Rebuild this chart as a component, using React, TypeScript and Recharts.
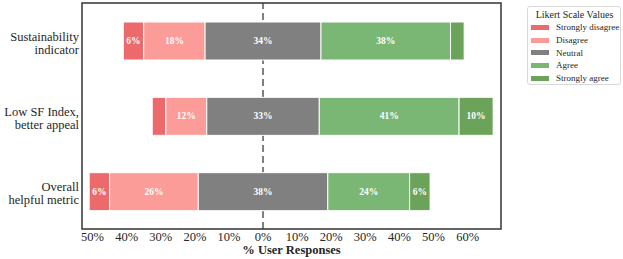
import React from 'react';
import { BarChart, Bar, XAxis, YAxis, ReferenceLine, ReferenceArea, Legend, LabelList } from 'recharts';

const categories = ['Sustainability\nindicator', 'Low SF Index,\nbetter appeal', 'Overall\nhelpful metric'];
const stronglyDisagree = [6, 4, 6];
const disagree = [18, 12, 26];
const neutral = [34, 33, 38];
const agree = [38, 41, 24];
const stronglyAgree = [4, 10, 6];
const xTicks = [-50, -40, -30, -20, -10, 0, 10, 20, 30, 40, 50, 60];

const FONT = 'Liberation Serif, DejaVu Serif, serif';
const TEXT = '#262626';
const X_DOMAIN: [number, number] = [-53.1, 69.8];

const series = [
  { key: 'sd', name: 'Strongly disagree', color: '#ec6a6b' },
  { key: 'd', name: 'Disagree', color: '#fb9c98' },
  { key: 'n', name: 'Neutral', color: '#808080' },
  { key: 'a', name: 'Agree', color: '#7ab674' },
  { key: 'sa', name: 'Strongly agree', color: '#6ba35b' },
];

// diverging layout: an invisible offset pushes each row so neutral is centred on 0
const data = categories.map((name, i) => ({
  name,
  pad: -(stronglyDisagree[i] + disagree[i] + neutral[i] / 2),
  sd: stronglyDisagree[i],
  d: disagree[i],
  n: neutral[i],
  a: agree[i],
  sa: stronglyAgree[i],
}));

const CategoryTick = ({ x, y, payload }: any) => {
  const lines = String(payload.value).split('\n');
  return (
    <text x={x} y={y} textAnchor="end" fill={TEXT} style={{ fontSize: 12.5, fontFamily: FONT }}>
      {lines.map((l, i) => (
        <tspan key={i} x={x} dy={i === 0 ? 0 : 13}>{l}</tspan>
      ))}
    </text>
  );
};

const SegmentLabel = (props: any) => {
  const { x, y, width, height, value } = props;
  if (value == null || Math.abs(value) < 5) return null;
  return (
    <text
      x={x + width / 2}
      y={y + height / 2}
      textAnchor="middle"
      dominantBaseline="central"
      fill="#fff"
      style={{ fontSize: 9.5, fontWeight: 'bold', fontFamily: FONT }}
    >
      {value}%
    </text>
  );
};

const LikertLegend = () => (
  <div
    style={{
      border: '1px solid #d9d9d9',
      borderRadius: 3,
      background: '#fff',
      padding: '1px 2px 0 3px',
      fontFamily: FONT,
      color: TEXT,
      boxSizing: 'border-box',
      width: 94,
      whiteSpace: 'nowrap',
    }}
  >
    <div style={{ fontSize: 10, textAlign: 'center', lineHeight: '13px' }}>Likert Scale Values</div>
    {series.map((s) => (
      <div key={s.key} style={{ display: 'flex', alignItems: 'center', height: 12.7, fontSize: 9 }}>
        <span style={{ display: 'inline-block', width: 18, height: 5, background: s.color, marginRight: 7, flexShrink: 0 }} />
        <span>{s.name}</span>
      </div>
    ))}
  </div>
);

export default function App() {
  return (
    <div style={{ position: 'absolute', left: 0, top: 0, fontFamily: FONT }}>
      <BarChart
        width={623}
        height={259}
        data={data}
        layout="vertical"
        stackOffset="none"
        margin={{ top: 3, right: 122, bottom: 0, left: 0 }}
        barSize={38}
        style={{ fontFamily: FONT }}
      >
        <XAxis
          type="number"
          domain={X_DOMAIN}
          ticks={xTicks}
          allowDataOverflow
          height={30}
          tickLine={false}
          axisLine={false}
          tickSize={0}
          tickMargin={3}
          tickFormatter={(v: number) => `${Math.abs(v)}%`}
          tick={{ fill: TEXT, fontSize: 12.5, style: { fontFamily: FONT } }}
          label={{
            value: '% User Responses',
            position: 'insideBottom',
            offset: 5,
            fill: TEXT,
            fontSize: 12.5,
            fontWeight: 'bold',
            style: { fontFamily: FONT },
          }}
        />
        <YAxis
          type="category"
          dataKey="name"
          width={82}
          axisLine={false}
          tickLine={false}
          tickSize={0}
          tickMargin={3}
          tick={<CategoryTick />}
        />
        <ReferenceLine x={0} stroke="#7f7f7f" strokeWidth={2} strokeDasharray="7 4" zIndex={100} />
        <Bar dataKey="pad" stackId="s" fill="transparent" legendType="none" isAnimationActive={false} />
        {series.map((s) => (
          <Bar
            key={s.key}
            dataKey={s.key}
            name={s.name}
            stackId="s"
            fill={s.color}
            stroke="#fff"
            strokeWidth={1}
            isAnimationActive={false}
          >
            <LabelList dataKey={s.key} content={<SegmentLabel />} />
          </Bar>
        ))}
        <ReferenceArea x1={X_DOMAIN[0]} x2={X_DOMAIN[1]} fill="none" stroke="#333" strokeWidth={1.5} ifOverflow="visible" />
        <Legend
          layout="vertical"
          align="center"
          verticalAlign="middle"
          content={<LikertLegend />}
          wrapperStyle={{ left: 527, top: 6, width: 94 }}
        />
      </BarChart>
    </div>
  );
}
